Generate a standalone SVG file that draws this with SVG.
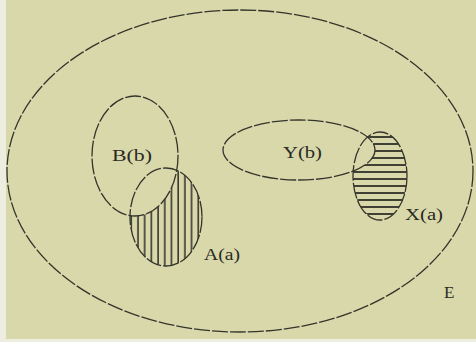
<svg xmlns="http://www.w3.org/2000/svg" width="476" height="342" viewBox="0 0 476 342">
<style>
.o{fill:none;stroke:#34342c;stroke-width:1.3;stroke-dasharray:16 2}
.t{font-family:"Liberation Serif","Times New Roman",serif;font-size:17px;fill:#2a2a24}
</style>
<defs>
<pattern id="vh" width="6.7" height="10" patternUnits="userSpaceOnUse" x="1">
<line x1="3" y1="0" x2="3" y2="10" stroke="#2e2e28" stroke-width="1.5"/>
</pattern>
<pattern id="hh" width="10" height="7" patternUnits="userSpaceOnUse" y="1">
<line x1="0" y1="3" x2="10" y2="3" stroke="#2e2e28" stroke-width="1.8"/>
</pattern>
<mask id="mA"><ellipse cx="166" cy="217" rx="36" ry="49" fill="#fff"/><ellipse cx="135" cy="156" rx="43" ry="60" fill="#000"/></mask>
<mask id="mX"><ellipse cx="380" cy="176" rx="27" ry="44" fill="#fff"/><ellipse cx="299" cy="150" rx="76" ry="30" fill="#000"/></mask>
</defs>
<rect width="476" height="342" fill="#d8d8aa"/>
<rect width="6" height="342" fill="#eeeee0"/>
<rect y="339" width="476" height="3" fill="#eeeee0"/>
<g id="E"><ellipse class="o" cx="240" cy="171" rx="233" ry="161"/><text class="t" x="444" y="298" font-size="18">E</text></g>
<g id="A"><rect x="128" y="166" width="76" height="102" fill="url(#vh)" mask="url(#mA)"/><ellipse class="o" cx="166" cy="217" rx="36" ry="49"/><text class="t" x="204" y="260" textLength="36" lengthAdjust="spacingAndGlyphs">A(a)</text></g>
<g id="B"><ellipse class="o" cx="135" cy="156" rx="43" ry="60"/><text class="t" x="112" y="161" textLength="40" lengthAdjust="spacingAndGlyphs">B(b)</text></g>
<g id="X"><rect x="352" y="130" width="56" height="92" fill="url(#hh)" mask="url(#mX)"/><ellipse class="o" cx="380" cy="176" rx="27" ry="44"/><text class="t" x="405" y="220" textLength="38" lengthAdjust="spacingAndGlyphs">X(a)</text></g>
<g id="Y"><ellipse class="o" cx="299" cy="150" rx="76" ry="30"/><text class="t" x="283" y="158" textLength="39" lengthAdjust="spacingAndGlyphs">Y(b)</text></g>
<g id="connectors"/>
</svg>
